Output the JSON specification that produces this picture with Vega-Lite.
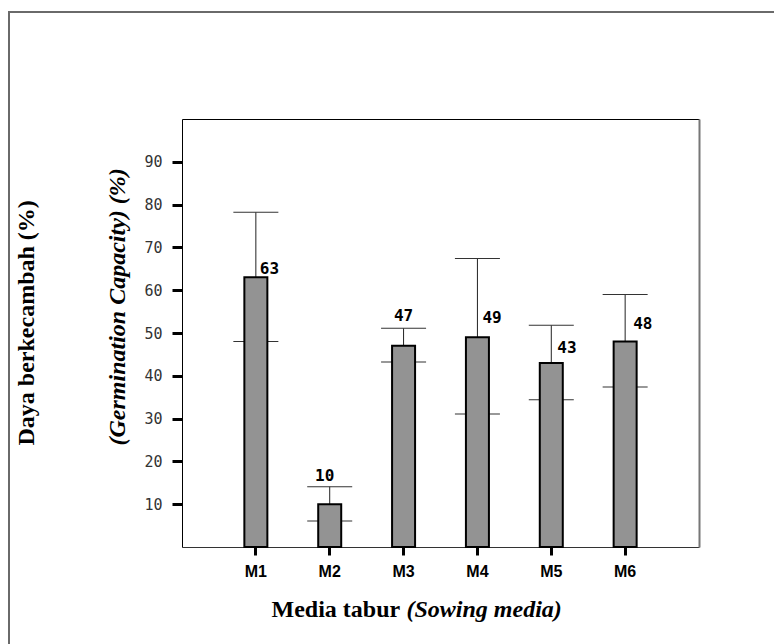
{
  "$schema": "https://vega.github.io/schema/vega-lite/v6.json",
  "width": 785,
  "height": 652,
  "autosize": "none",
  "padding": {"left": 9, "top": 12, "right": -20, "bottom": -20},
  "background": "white",
  "config": {"view": {"stroke": "#6a6a6a", "strokeWidth": 2}},
  "data": {
    "values": [
      {"media": "M1", "mean": 63, "lo": 48.0, "hi": 78.2},
      {"media": "M2", "mean": 10, "lo": 6.1, "hi": 14.1},
      {"media": "M3", "mean": 47, "lo": 43.2, "hi": 51.1},
      {"media": "M4", "mean": 49, "lo": 31.1, "hi": 67.4},
      {"media": "M5", "mean": 43, "lo": 34.4, "hi": 51.8},
      {"media": "M6", "mean": 48, "lo": 37.4, "hi": 59.0}
    ]
  },
  "resolve": {"axis": {"x": "independent", "y": "independent"}},
  "layer": [
    {
      "encoding": {
        "x": {
          "field": "media",
          "type": "nominal",
          "sort": null,
          "scale": {"type": "band", "range": [173, 690], "paddingInner": 0, "paddingOuter": 0.5},
          "axis": {
            "orient": "bottom",
            "offset": -117,
            "domainColor": "#333333",
            "domainWidth": 1,
            "tickSize": 8,
            "tickWidth": 3,
            "tickColor": "black",
            "labelFont": "Liberation Sans",
            "labelFontWeight": "bold",
            "labelFontSize": 16,
            "labelColor": "black",
            "labelPadding": 8,
            "labelAngle": 0,
            "title": "Media tabur",
            "titleFont": "Liberation Serif",
            "titleFontSize": 24,
            "titleFontWeight": "bold",
            "titleColor": "black",
            "titleAlign": "left",
            "titleBaseline": "alphabetic",
            "titleX": 262,
            "titleY": 69
          }
        }
      },
      "layer": [
        {
          "mark": {"type": "rule", "color": "#222222", "strokeWidth": 1},
          "encoding": {
            "y": {"field": "lo", "type": "quantitative"},
            "y2": {"field": "hi"}
          }
        },
        {
          "mark": {"type": "tick", "orient": "horizontal", "size": 45, "thickness": 1, "color": "#333333", "opacity": 1},
          "encoding": {"y": {"field": "lo", "type": "quantitative"}}
        },
        {
          "mark": {"type": "tick", "orient": "horizontal", "size": 45, "thickness": 1, "color": "#333333", "opacity": 1},
          "encoding": {"y": {"field": "hi", "type": "quantitative"}}
        },
        {
          "mark": {"type": "bar", "size": 23, "fill": "#939393", "stroke": "black", "strokeWidth": 2},
          "encoding": {
            "y": {
              "field": "mean",
              "type": "quantitative",
              "scale": {"domain": [0, 100], "range": [535, 107], "nice": false},
              "axis": {
                "orient": "left",
                "offset": -173,
                "values": [10, 20, 30, 40, 50, 60, 70, 80, 90],
                "grid": false,
                "domain": true,
                "domainColor": "black",
                "domainWidth": 1,
                "ticks": true,
                "tickSize": 10,
                "tickWidth": 3,
                "tickColor": "black",
                "labelFont": "DejaVu Sans Mono",
                "labelFontSize": 15,
                "labelColor": "#333333",
                "labelPadding": 10,
                "title": "Daya berkecambah (%)",
                "titleFont": "Liberation Serif",
                "titleFontSize": 24,
                "titleFontWeight": "bold",
                "titleColor": "black",
                "titleAngle": 270,
                "titleAlign": "left",
                "titleBaseline": "alphabetic",
                "titleX": -149,
                "titleY": 433
              }
            }
          }
        },
        {
          "transform": [{"filter": "datum.media === 'M1'"}],
          "mark": {"type": "text", "font": "DejaVu Sans Mono", "fontWeight": "bold", "fontSize": 16, "color": "black", "align": "left", "baseline": "alphabetic", "dx": 4, "dy": -3},
          "encoding": {"y": {"field": "mean", "type": "quantitative"}, "text": {"field": "mean"}}
        },
        {
          "transform": [{"filter": "datum.media === 'M4'"}],
          "mark": {"type": "text", "font": "DejaVu Sans Mono", "fontWeight": "bold", "fontSize": 16, "color": "black", "align": "left", "baseline": "alphabetic", "dx": 5, "dy": -14},
          "encoding": {"y": {"field": "mean", "type": "quantitative"}, "text": {"field": "mean"}}
        },
        {
          "transform": [{"filter": "datum.media === 'M5'"}],
          "mark": {"type": "text", "font": "DejaVu Sans Mono", "fontWeight": "bold", "fontSize": 16, "color": "black", "align": "left", "baseline": "alphabetic", "dx": 6, "dy": -10},
          "encoding": {"y": {"field": "mean", "type": "quantitative"}, "text": {"field": "mean"}}
        },
        {
          "transform": [{"filter": "datum.media === 'M6'"}],
          "mark": {"type": "text", "font": "DejaVu Sans Mono", "fontWeight": "bold", "fontSize": 16, "color": "black", "align": "left", "baseline": "alphabetic", "dx": 8, "dy": -13},
          "encoding": {"y": {"field": "mean", "type": "quantitative"}, "text": {"field": "mean"}}
        },
        {
          "transform": [{"filter": "datum.media === 'M2'"}],
          "mark": {"type": "text", "font": "DejaVu Sans Mono", "fontWeight": "bold", "fontSize": 16, "color": "black", "align": "center", "baseline": "alphabetic", "dx": -5, "dy": -6},
          "encoding": {"y": {"field": "hi", "type": "quantitative"}, "text": {"field": "mean"}}
        },
        {
          "transform": [{"filter": "datum.media === 'M3'"}],
          "mark": {"type": "text", "font": "DejaVu Sans Mono", "fontWeight": "bold", "fontSize": 16, "color": "black", "align": "center", "baseline": "alphabetic", "dx": 0, "dy": -7},
          "encoding": {"y": {"field": "hi", "type": "quantitative"}, "text": {"field": "mean"}}
        }
      ]
    },
    {
      "mark": {"type": "point", "opacity": 0},
      "encoding": {
        "x": {
          "field": "media",
          "type": "nominal",
          "sort": null,
          "axis": {
            "orient": "top",
            "offset": -107,
            "domainColor": "black",
            "domainWidth": 1,
            "ticks": false,
            "labels": false,
            "title": "(Sowing media)",
            "titleFont": "Liberation Serif",
            "titleFontSize": 24,
            "titleFontWeight": "bold",
            "titleFontStyle": "italic",
            "titleColor": "black",
            "titleAlign": "left",
            "titleBaseline": "alphabetic",
            "titleX": 397,
            "titleY": 497
          }
        },
        "y": {
          "field": "mean",
          "type": "quantitative",
          "axis": {
            "orient": "right",
            "offset": -95,
            "grid": false,
            "domainColor": "#777777",
            "domainWidth": 2,
            "ticks": false,
            "labels": false,
            "title": "(Germination Capacity) (%)",
            "titleFont": "Liberation Serif",
            "titleFontSize": 24,
            "titleFontWeight": "bold",
            "titleFontStyle": "italic",
            "titleColor": "black",
            "titleAngle": 270,
            "titleAlign": "left",
            "titleBaseline": "alphabetic",
            "titleX": -575,
            "titleY": 433
          }
        }
      }
    }
  ]
}
